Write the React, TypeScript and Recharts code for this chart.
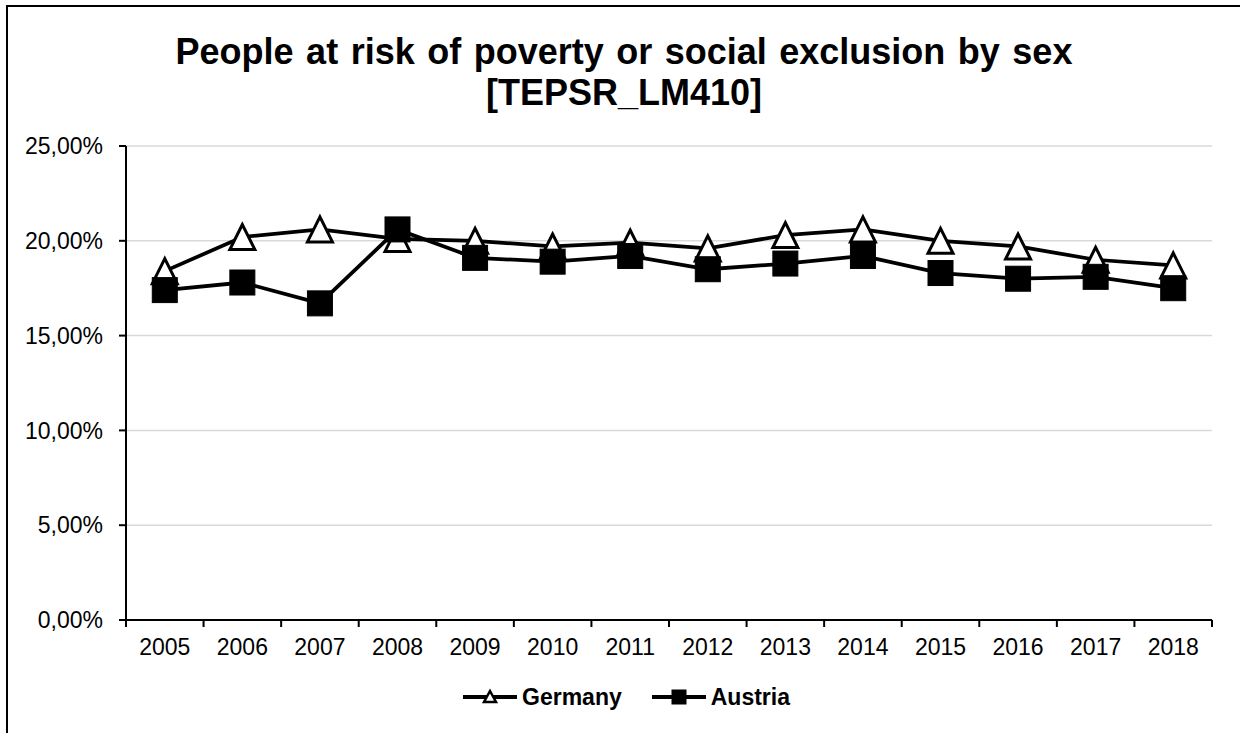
import React from 'react';
import { LineChart, Line, XAxis, YAxis, CartesianGrid, Legend } from 'recharts';

const years = ['2005', '2006', '2007', '2008', '2009', '2010', '2011', '2012', '2013', '2014', '2015', '2016', '2017', '2018'];
const germany = [18.4, 20.2, 20.6, 20.1, 20.0, 19.7, 19.9, 19.6, 20.3, 20.6, 20.0, 19.7, 19.0, 18.7];
const austria = [17.4, 17.8, 16.7, 20.6, 19.1, 18.9, 19.2, 18.5, 18.8, 19.2, 18.3, 18.0, 18.1, 17.5];
const yTicks = [0, 5, 10, 15, 20, 25];
const seriesNames = ['Germany', 'Austria'];
const titleLines = ['People at risk of poverty or social exclusion by sex', '[TEPSR_LM410]'];

const data = years.map((y, i) => ({ year: y, Germany: germany[i], Austria: austria[i] }));

const FONT = '"Liberation Sans", Arial, sans-serif';

const fmtPct = (v: number) => v.toFixed(2).replace('.', ',') + '%';

const XTick = (props: any) => {
  const { x, y, payload, index, visibleTicksCount, width } = props;
  const half = payload && payload.offset ? payload.offset : width / visibleTicksCount / 2;
  return (
    <g>
      <line x1={x - half} x2={x - half} y1={y} y2={y + 7} stroke="#000" strokeWidth={2} />
      {index === visibleTicksCount - 1 && (
        <line x1={x + half} x2={x + half} y1={y} y2={y + 7} stroke="#000" strokeWidth={2} />
      )}
      <text x={x} y={y + 35} textAnchor="middle" fontSize={23} fontFamily={FONT} fill="#000">
        {payload.value}
      </text>
    </g>
  );
};

const TriangleDot = (props: any) => {
  const { cx, cy, index } = props;
  if (cx == null || cy == null) return <g key={`gt-${index}`} />;
  const hw = 12.5;
  const hh = 12.5;
  return (
    <polygon
      key={`gt-${index}`}
      points={`${cx},${cy - hh} ${cx - hw},${cy + hh} ${cx + hw},${cy + hh}`}
      fill="#fff"
      stroke="#000"
      strokeWidth={3}
      strokeLinejoin="miter"
    />
  );
};

const SquareDot = (props: any) => {
  const { cx, cy, index } = props;
  if (cx == null || cy == null) return <g key={`as-${index}`} />;
  const s = 12.5;
  return <rect key={`as-${index}`} x={cx - s} y={cy - s} width={2 * s} height={2 * s} fill="#000" stroke="#000" strokeWidth={1} />;
};

const LegendContent = () => {
  return (
    <div
      style={{
        display: 'flex',
        justifyContent: 'center',
        alignItems: 'center',
        height: 40,
        paddingLeft: 41,
        fontFamily: FONT,
        fontWeight: 'bold',
        fontSize: 23,
        color: '#000',
      }}
    >
      {seriesNames.map((n: string, i: number) => (
        <div key={n} style={{ display: 'flex', alignItems: 'center', marginLeft: i === 0 ? 0 : 30 }}>
          <svg width={54} height={20} style={{ display: 'block' }}>
            <line x1={0} x2={54} y1={10} y2={10} stroke="#000" strokeWidth={4} />
            {i === 0 ? (
              <polygon points="27,4 21,15 33,15" fill="#fff" stroke="#000" strokeWidth={2.5} />
            ) : (
              <rect x={19.5} y={2.5} width={15} height={15} fill="#000" />
            )}
          </svg>
          <span style={{ marginLeft: 5 }}>{n}</span>
        </div>
      ))}
    </div>
  );
};

export default function App() {
  return (
    <div style={{ position: 'absolute', left: 0, top: 0, width: 1240, height: 733, overflow: 'hidden', background: '#fff' }}>
      <div
        style={{
          position: 'absolute',
          left: 6,
          top: 4.5,
          width: 1400,
          height: 900,
          borderLeft: '2px solid #000',
          borderTop: '2px solid #000',
        }}
      />
      <div
        style={{
          position: 'absolute',
          left: 8,
          top: 31,
          width: 1232,
          textAlign: 'center',
          fontFamily: FONT,
          fontWeight: 'bold',
          fontSize: 36,
          lineHeight: '41px',
          wordSpacing: 2.5,
          color: '#000',
        }}
      >
        {titleLines.map((t) => (
          <div key={t}>{t}</div>
        ))}
      </div>
      <div style={{ position: 'absolute', left: 0, top: 0 }}>
        <LineChart width={1240} height={733} data={data} margin={{ top: 146, right: 28, bottom: 16, left: 0 }}>
          <CartesianGrid horizontal vertical={false} stroke="#d9d9d9" strokeWidth={1.5} />
          <XAxis
            dataKey="year"
            scale="band"
            height={57}
            tickLine={false}
            tickSize={0}
            tickMargin={0}
            axisLine={{ stroke: '#000', strokeWidth: 2 }}
            tick={<XTick />}
            interval={0}
          />
          <YAxis
            width={126}
            domain={[0, 25]}
            ticks={yTicks}
            tickFormatter={fmtPct}
            tickSize={7}
            tickMargin={16}
            axisLine={{ stroke: '#000', strokeWidth: 2 }}
            tickLine={{ stroke: '#000', strokeWidth: 2 }}
            tick={{ fill: '#000', fontSize: 23, fontFamily: FONT }}
          />
          <Legend verticalAlign="bottom" height={40} wrapperStyle={{ height: 40 }} content={<LegendContent />} />
          <Line
            type="linear"
            dataKey="Germany"
            name={seriesNames[0]}
            stroke="#000"
            strokeWidth={3.75}
            dot={TriangleDot}
            activeDot={false}
            isAnimationActive={false}
          />
          <Line
            type="linear"
            dataKey="Austria"
            name={seriesNames[1]}
            stroke="#000"
            strokeWidth={3.75}
            dot={SquareDot}
            activeDot={false}
            isAnimationActive={false}
          />
        </LineChart>
      </div>
    </div>
  );
}
